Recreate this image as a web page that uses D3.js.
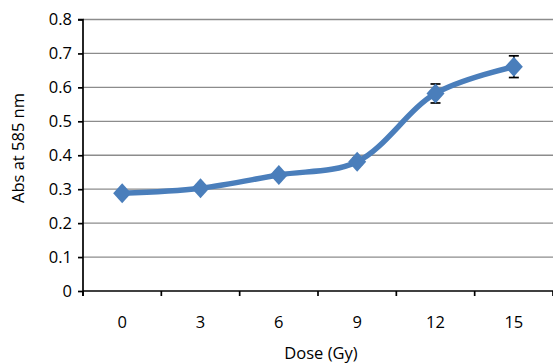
<!DOCTYPE html>
<html>
<head>
<meta charset="utf-8">
<script src="https://cdn.jsdelivr.net/npm/d3@7/dist/d3.min.js"></script>
<style>
  html, body { margin: 0; padding: 0; background: #fff; }
  svg { display: block; }
  text { font-family: "Open Sans", "Noto Sans", sans-serif; fill: #000; }
</style>
</head>
<body>
<svg id="chart" width="553" height="363"></svg>
<script>
// Absorbance at 585 nm against radiation dose
const doses = ["0", "3", "6", "9", "12", "15"];
const absorbance = [0.288, 0.303, 0.342, 0.381, 0.582, 0.661];
const errors = [0.006, 0.007, 0.008, 0.01, 0.028, 0.032];
const yTicks = [0, 0.1, 0.2, 0.3, 0.4, 0.5, 0.6, 0.7, 0.8];

const svg = d3.select("#chart");
const margin = { left: 83, right: 0, top: 19.5, bottom: 72 };
const W = 553, H = 363;
const fontSize = "16.5px";

const x = d3.scaleBand().domain(doses).range([margin.left, W - margin.right]).padding(0);
const y = d3.scaleLinear().domain([0, 0.8]).range([H - margin.bottom, margin.top]);

// horizontal gridlines
svg.append("g")
  .selectAll("line")
  .data(yTicks.filter(d => d > 0))
  .join("line")
  .attr("x1", margin.left).attr("x2", W)
  .attr("y1", d => y(d)).attr("y2", d => y(d))
  .attr("stroke", "#8c8c8c").attr("stroke-width", 1.3);

// y axis
const yAxis = svg.append("g")
  .attr("transform", `translate(${margin.left},0)`)
  .call(d3.axisLeft(y).tickValues(yTicks).tickSize(5).tickPadding(6)
    .tickFormat(d => d === 0 ? "0" : d3.format(".1f")(d)));
yAxis.select(".domain").attr("stroke", "#000").attr("stroke-width", 1.7)
  .attr("d", `M-5,${y(0.8)}H0V${y(0) + 5}`);
yAxis.selectAll(".tick line").attr("stroke", "#000").attr("stroke-width", 1.7);
yAxis.selectAll(".tick text").style("font-size", fontSize);

// x axis with ticks between categories
const xAxisG = svg.append("g").attr("transform", `translate(0,${y(0)})`);
xAxisG.append("line")
  .attr("x1", margin.left).attr("x2", W)
  .attr("stroke", "#000").attr("stroke-width", 1.7);
const boundaries = doses.map(d => x(d) + x.bandwidth()).concat([x(doses[0])]);
xAxisG.selectAll("line.tk")
  .data(boundaries)
  .join("line")
  .attr("class", "tk")
  .attr("x1", d => d).attr("x2", d => d)
  .attr("y1", 0).attr("y2", 5)
  .attr("stroke", "#000").attr("stroke-width", 1.7);
xAxisG.selectAll("text")
  .data(doses)
  .join("text")
  .attr("x", d => x(d) + x.bandwidth() / 2)
  .attr("y", 37)
  .attr("text-anchor", "middle")
  .style("font-size", fontSize)
  .text(d => d);

// axis titles
svg.append("text")
  .attr("x", x.range()[0] + (x.range()[1] - x.range()[0]) / 2 + 3)
  .attr("y", 359)
  .attr("text-anchor", "middle")
  .style("font-size", fontSize)
  .text("Dose (Gy)");
svg.append("text")
  .attr("transform", `translate(24,148) rotate(-90)`)
  .attr("text-anchor", "middle")
  .style("font-size", fontSize)
  .text("Abs at 585 nm");

const cx = i => x(doses[i]) + x.bandwidth() / 2;

// error bars
const eb = svg.append("g").attr("stroke", "#000").attr("stroke-width", 1.7);
absorbance.forEach((v, i) => {
  const e = errors[i];
  eb.append("line").attr("x1", cx(i)).attr("x2", cx(i)).attr("y1", y(v + e)).attr("y2", y(v - e));
  eb.append("line").attr("x1", cx(i) - 5).attr("x2", cx(i) + 5).attr("y1", y(v + e)).attr("y2", y(v + e));
  eb.append("line").attr("x1", cx(i) - 5).attr("x2", cx(i) + 5).attr("y1", y(v - e)).attr("y2", y(v - e));
});

// smoothed line
const line = d3.line()
  .x((d, i) => cx(i))
  .y(d => y(d))
  .curve(d3.curveCatmullRom.alpha(0.5));
svg.append("path")
  .datum(absorbance)
  .attr("d", line)
  .attr("fill", "none")
  .attr("stroke", "#4a7ebb")
  .attr("stroke-width", 5.5)
  .attr("stroke-linejoin", "round");

// diamond markers
svg.append("g")
  .selectAll("path")
  .data(absorbance)
  .join("path")
  .attr("transform", (d, i) => `translate(${cx(i)},${y(d)})`)
  .attr("d", "M0,-10L9,0L0,10L-9,0Z")
  .attr("fill", "#4a7ebb");
</script>
</body>
</html>
